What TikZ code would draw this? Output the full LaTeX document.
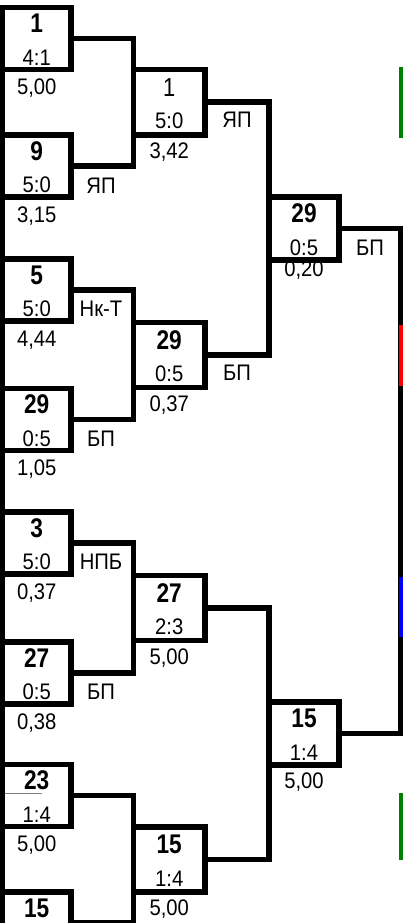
\documentclass[tikz,border=0pt]{standalone}
\usepackage{fontspec}
\setmainfont{Liberation Sans}[FakeStretch=0.9]
\newfontfamily\numfont{Liberation Sans}[FakeStretch=0.84]
\usetikzlibrary{positioning}

\begin{document}
\begin{tikzpicture}[
  x=1pt, y=-1pt,
  box/.style={draw, line width=5.5pt, inner sep=0pt, outer sep=0pt, minimum width=68.5pt, minimum height=62pt},
  boxw/.style={box, minimum width=71.5pt, minimum height=65pt},
  boxm/.style={box, minimum width=70pt, minimum height=63pt},
  num/.style={inner sep=0pt, font=\numfont\fontsize{27}{27}\selectfont\bfseries},
  numlight/.style={inner sep=0pt, font=\numfont\fontsize{26}{26}\selectfont},
  score/.style={inner sep=0pt, font=\fontsize{22.5}{22.5}\selectfont},
  club/.style={score},
  link/.style={line width=5.5pt},
  mark line/.style={line width=4pt}
]
\useasboundingbox (0,0) rectangle (403,923);

% first round
\node[box] (p1) at (36.75,38.5) {};
\node[box] (p2) at (36.75,166) {};
\node[box] (p3) at (36.75,290) {};
\node[box] (p4) at (36.75,419.5) {};
\node[box] (p5) at (36.75,543) {};
\node[box] (p6) at (36.75,673) {};
\node[box] (p7) at (36.75,795.5) {};
\node[box] (p8) at (36.75,923) {};

\node[num] (p1n) at ([yshift=15pt]p1.center) {1};
\node[score] (p1s) at ([yshift=-19pt]p1.center) {4:1};
\node[score] (p1o) at ([yshift=-50pt]p1.center) {5,00};
\node[num] (p2n) at ([yshift=15pt]p2.center) {9};
\node[score] (p2s) at ([yshift=-19pt]p2.center) {5:0};
\node[score] (p2o) at ([yshift=-50pt]p2.center) {3,15};
\node[club] (p2c) at ([shift={(30pt,-20pt)}]p2.east) {ЯП};
\node[num] (p3n) at ([yshift=15pt]p3.center) {5};
\node[score] (p3s) at ([yshift=-19pt]p3.center) {5:0};
\node[score] (p3o) at ([yshift=-50pt]p3.center) {4,44};
\node[club] (p3c) at ([shift={(30pt,-19pt)}]p3.east) {Нк-Т};
\node[num] (p4n) at ([yshift=15pt]p4.center) {29};
\node[score] (p4s) at ([yshift=-19pt]p4.center) {0:5};
\node[score] (p4o) at ([yshift=-50pt]p4.center) {1,05};
\node[club] (p4c) at ([shift={(30pt,-19pt)}]p4.east) {БП};
\node[num] (p5n) at ([yshift=15pt]p5.center) {3};
\node[score] (p5s) at ([yshift=-19pt]p5.center) {5:0};
\node[score] (p5o) at ([yshift=-50pt]p5.center) {0,37};
\node[club] (p5c) at ([shift={(30pt,-19pt)}]p5.east) {НПБ};
\node[num] (p6n) at ([yshift=15pt]p6.center) {27};
\node[score] (p6s) at ([yshift=-19pt]p6.center) {0:5};
\node[score] (p6o) at ([yshift=-50pt]p6.center) {0,38};
\node[club] (p6c) at ([shift={(30pt,-19pt)}]p6.east) {БП};
\node[num] (p7n) at ([yshift=15pt]p7.center) {23};
\node[score] (p7s) at ([yshift=-19pt]p7.center) {1:4};
\node[score] (p7o) at ([yshift=-50pt]p7.center) {5,00};
\node[num] (p8n) at ([yshift=15pt]p8.center) {15};
\draw[gray, line width=0.8pt] (5,793) -- (42,793);

% second round
\node[boxw] (q1) at (169.25,102.25) {};
\node[boxw] (q2) at (169.25,354.75) {};
\node[boxw] (q3) at (169.25,608) {};
\node[boxw] (q4) at (169.25,859.25) {};

\node[numlight] (q1n) at ([yshift=15pt]q1.center) {1};
\node[score] (q1s) at ([yshift=-19pt]q1.center) {5:0};
\node[score] (q1o) at ([yshift=-50pt]q1.center) {3,42};
\node[club] (q1c) at ([shift={(32pt,-18pt)}]q1.east) {ЯП};
\node[num] (q2n) at ([yshift=15pt]q2.center) {29};
\node[score] (q2s) at ([yshift=-19pt]q2.center) {0:5};
\node[score] (q2o) at ([yshift=-50pt]q2.center) {0,37};
\node[club] (q2c) at ([shift={(32pt,-18pt)}]q2.east) {БП};
\node[num] (q3n) at ([yshift=15pt]q3.center) {27};
\node[score] (q3s) at ([yshift=-19pt]q3.center) {2:3};
\node[score] (q3o) at ([yshift=-50pt]q3.center) {5,00};
\node[num] (q4n) at ([yshift=15pt]q4.center) {15};
\node[score] (q4s) at ([yshift=-19pt]q4.center) {1:4};
\node[score] (q4o) at ([yshift=-50pt]q4.center) {5,00};

% semi-finals
\node[boxm] (s1) at (304,228.5) {};
\node[boxm] (s2) at (304,733.6) {};

\node[num] (s1n) at ([yshift=15pt]s1.center) {29};
\node[score] (s1s) at ([yshift=-19pt]s1.center) {0:5};
\node[score] (s1o) at ([yshift=-42pt]s1.center) {0,20};
\node[club] (s1c) at ([shift={(31pt,-19pt)}]s1.east) {БП};
\node[num] (s2n) at ([yshift=15pt]s2.center) {15};
\node[score] (s2s) at ([yshift=-19pt]s2.center) {1:4};
\node[score] (s2o) at ([yshift=-48pt]s2.center) {5,00};

\coordinate (fin) at (401,480);

% brackets
\draw[link] (p1.north west) -- (p8.south west);
\draw[link] (p1.east) -| (q1.west) |- (p2.east);
\draw[link] (p3.east) -| (q2.west) |- (p4.east);
\draw[link] (p5.east) -| (q3.west) |- (p6.east);
\draw[link] (p7.east) -| (q4.west) |- (p8.east);
\draw[link] (q1.east) -| (s1.west) |- (q2.east);
\draw[link] (q3.east) -| (s2.west) |- (q4.east);
\draw[link] (s1.east) -| (fin) |- (s2.east);

% coloured marks
\draw[mark line, green!50!black] (401,67) -- (401,138);
\draw[mark line, red] (401,325) -- (401,386);
\draw[mark line, blue] (401,577) -- (401,637);
\draw[mark line, green!50!black] (401,793) -- (401,860);
\end{tikzpicture}
\end{document}
